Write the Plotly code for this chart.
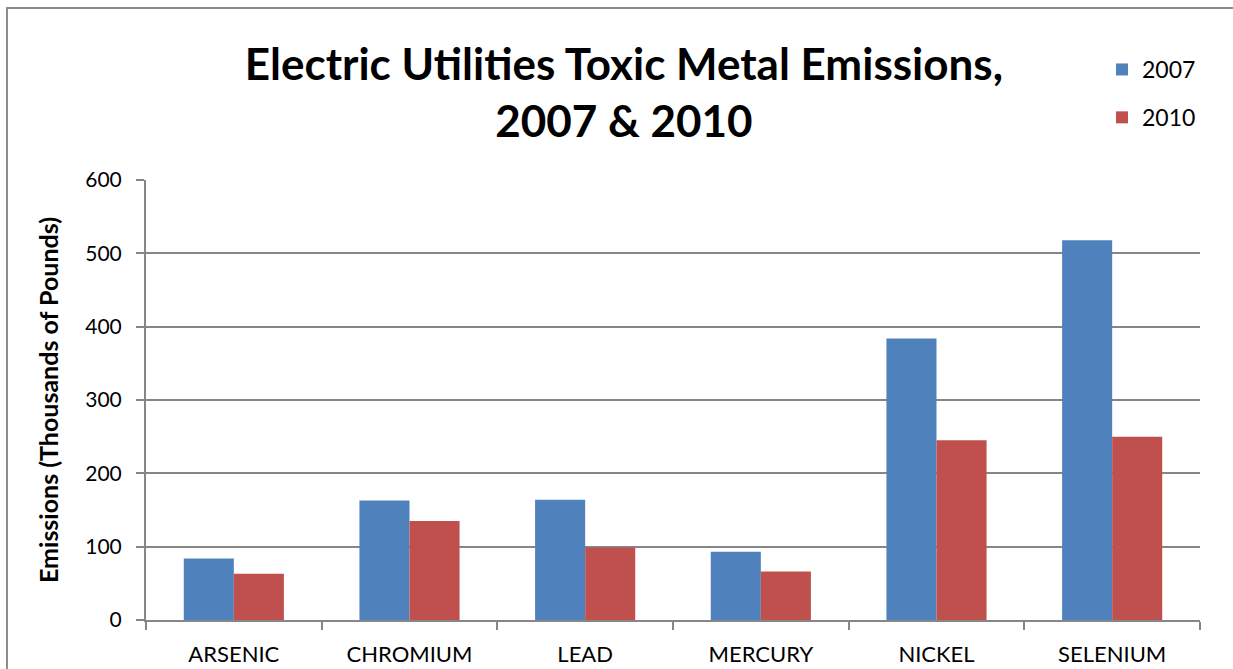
import plotly.graph_objects as go

categories = ["ARSENIC", "CHROMIUM", "LEAD", "MERCURY", "NICKEL", "SELENIUM"]
values_2007 = [84, 163, 164, 93, 384, 518]
values_2010 = [63, 135, 99, 66, 245, 250]
y_ticks = [0, 100, 200, 300, 400, 500, 600]

W, H = 1233, 669
ML, MR, MT, MB = 146, 33, 180, 49
pw, ph = W - ML - MR, H - MT - MB

FONT = "Lato"

fig = go.Figure()
fig.add_trace(go.Bar(name="2007", x=categories, y=values_2007,
                     marker=dict(color="#4F81BD", line=dict(width=0)),
                     legendgroup="a"))
fig.add_trace(go.Bar(name="2010", x=categories, y=values_2010,
                     marker=dict(color="#C0504D", line=dict(width=0)),
                     legendgroup="b"))

# chart area border (top and left visible)
fig.add_shape(type="rect", xref="paper", yref="paper",
              x0=(7 - ML) / pw, x1=(W + 10 - ML) / pw,
              y0=-(MB + 10) / ph, y1=1 + (MT - 8) / ph,
              line=dict(color="#8C8C8C", width=2), layer="below")

fig.update_layout(
    width=W, height=H,
    margin=dict(l=ML, r=MR, t=MT, b=MB, autoexpand=False),
    paper_bgcolor="white", plot_bgcolor="white",
    font=dict(family=FONT, color="black", size=21),
    title=dict(text="<b>Electric Utilities Toxic Metal Emissions,<br>2007 & 2010</b>",
               font=dict(family=FONT, size=44, color="black"),
               xref="container", x=0.506, xanchor="center",
               yref="container", y=0.88, yanchor="top"),
    barmode="group", bargap=0.43, bargroupgap=0,
    legend=dict(x=(1102 - ML) / pw, y=1 + (MT - 48) / ph, xanchor="left", yanchor="top",
                xref="paper", yref="paper",
                font=dict(family=FONT, size=23), tracegroupgap=15,
                bgcolor="rgba(0,0,0,0)", itemwidth=30),
    xaxis=dict(type="category", showline=True, linecolor="#868686", linewidth=2,
               ticks="outside", tickson="boundaries", ticklen=8, tickcolor="#868686",
               tickwidth=2, showgrid=False, tickfont=dict(family=FONT, size=22),
               ticklabelstandoff=14, mirror=False),
    yaxis=dict(range=[0, 600], tickvals=y_ticks, showline=True, linecolor="#868686",
               linewidth=2, ticks="outside", ticklen=8, tickcolor="#868686", tickwidth=2,
               showgrid=True, gridcolor="#868686", gridwidth=2, zeroline=False,
               tickfont=dict(family=FONT, size=21), ticklabelstandoff=10,
               title=dict(text="<b>Emissions (Thousands of Pounds)</b>",
                          font=dict(family=FONT, size=25), standoff=20)),
)

fig.write_html("out.html", config={"displayModeBar": False},
               post_script="document.body.style.margin='0';")
